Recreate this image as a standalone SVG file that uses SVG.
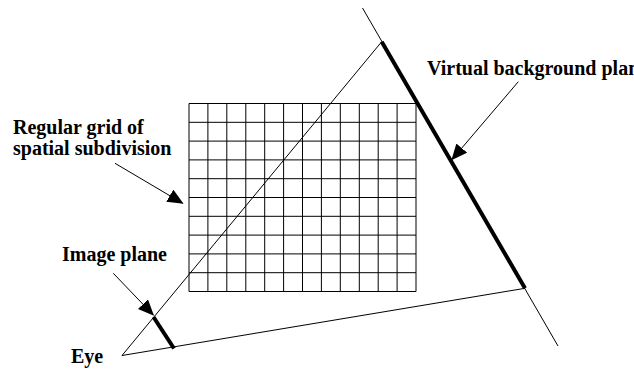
<svg xmlns="http://www.w3.org/2000/svg" width="634" height="371" viewBox="0 0 634 371">
<style>
.lbl{font-family:"Liberation Serif","Times New Roman",serif;font-weight:bold;font-size:20px;fill:#000}
.thin{stroke:#000;stroke-width:1;fill:none}
.thick{stroke:#000;stroke-width:4;fill:none}
.grid{stroke:#000;stroke-width:1;fill:none}
.ptr{stroke:#000;stroke-width:1;fill:none}
</style>
<defs>
<marker id="ah" markerUnits="userSpaceOnUse" markerWidth="16" markerHeight="14" viewBox="0 0 16 14" refX="15" refY="7" orient="auto">
<path d="M0,0 L16,7 L0,14 Z" fill="#000"/>
</marker>
</defs>
<g id="grid">
<path class="grid" d="M189,103.5 V291.5 M207.9,103.5 V291.5 M226.8,103.5 V291.5 M245.8,103.5 V291.5 M264.7,103.5 V291.5 M283.6,103.5 V291.5 M302.5,103.5 V291.5 M321.4,103.5 V291.5 M340.3,103.5 V291.5 M359.3,103.5 V291.5 M378.2,103.5 V291.5 M397.1,103.5 V291.5 M416,103.5 V291.5 M189,103.5 H416 M189,122.3 H416 M189,141.1 H416 M189,159.9 H416 M189,178.7 H416 M189,197.5 H416 M189,216.3 H416 M189,235.1 H416 M189,253.9 H416 M189,272.7 H416 M189,291.5 H416"/>
</g>
<g id="frustum">
<line class="thin" x1="122" y1="355.5" x2="381.7" y2="41.7"/>
<line class="thin" x1="122" y1="355.5" x2="525" y2="288.3"/>
<line class="thin" x1="362.5" y1="8" x2="558" y2="346"/>
</g>
<g id="background-plane">
<line class="thick" x1="381.7" y1="41.7" x2="525" y2="288.3"/>
</g>
<g id="image-plane">
<line class="thick" x1="153.5" y1="317" x2="174" y2="348.5"/>
</g>
<g id="connectors">
<line class="ptr" x1="518.3" y1="81.7" x2="452" y2="159.5" marker-end="url(#ah)"/>
<line class="ptr" x1="115" y1="163.3" x2="182.7" y2="203.3" marker-end="url(#ah)"/>
<line class="ptr" x1="113.3" y1="273.3" x2="153.3" y2="315" marker-end="url(#ah)"/>
</g>
<g id="labels">
<text class="lbl" x="427" y="75">Virtual background plane</text>
<text class="lbl" x="13" y="134">Regular grid of</text>
<text class="lbl" x="13" y="155">spatial subdivision</text>
<text class="lbl" x="62" y="261">Image plane</text>
<text class="lbl" x="71" y="363">Eye</text>
</g>
</svg>
